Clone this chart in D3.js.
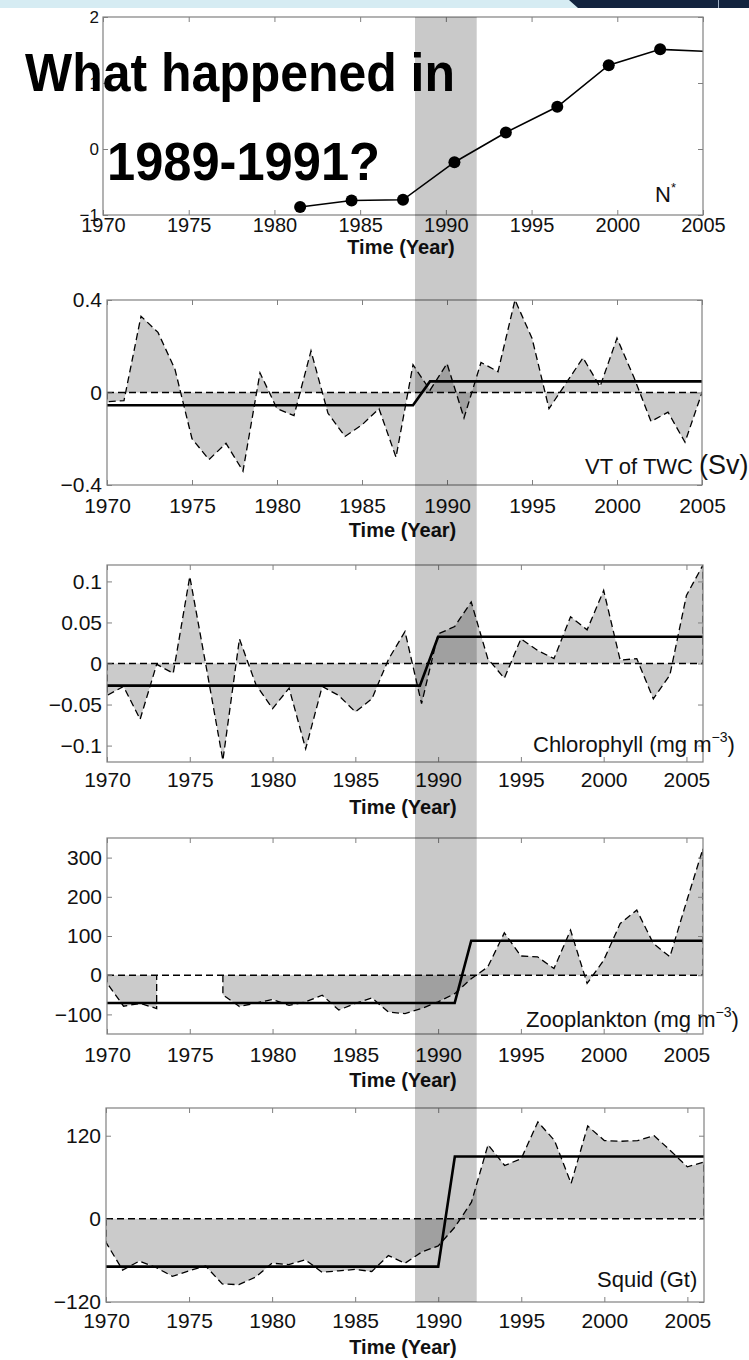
<!DOCTYPE html>
<html><head><meta charset="utf-8">
<script src="https://cdn.jsdelivr.net/npm/d3@7"></script>
<style>body{margin:0;background:#fff}svg{display:block}</style>
</head><body><svg id="c" width="749" height="1360"></svg>
<script>
// ---------------- DATA ----------------
const xTickValues = [1970, 1975, 1980, 1985, 1990, 1995, 2000, 2005];

// Panel 1: N*
const nYears  = [1981.5, 1984.5, 1987.5, 1990.5, 1993.5, 1996.5, 1999.5, 2002.5];
const nValues = [-0.88, -0.78, -0.77, -0.2, 0.25, 0.64, 1.27, 1.51];
const nTailYear = 2005, nTailValue = 1.48;
const nYTicks = [-1, 0, 1, 2];

// Panel 2: VT of TWC (Sv)
const vtYears = [1970,1971,1972,1973,1974,1975,1976,1977,1978,1979,1980,1981,1982,1983,1984,1985,1986,1987,1988,1989,1990,1991,1992,1993,1994,1995,1996,1997,1998,1999,2000,2001,2002,2003,2004,2005];
const vtValues = [-0.04,-0.035,0.33,0.26,0.1,-0.2,-0.29,-0.22,-0.34,0.085,-0.07,-0.1,0.18,-0.09,-0.19,-0.14,-0.07,-0.28,0.12,0.01,0.125,-0.11,0.13,0.09,0.4,0.235,-0.07,0.04,0.15,0.025,0.235,0.065,-0.125,-0.085,-0.215,0.0];
const vtStepYears = [1970, 1988, 1989, 2005];
const vtStepValues = [-0.055, -0.055, 0.048, 0.048];
const vtYTicks = [-0.4, 0, 0.4];

// Panel 3: Chlorophyll (mg m^-3)
const chlYears = [1970,1971,1972,1973,1974,1975,1976,1977,1978,1979,1980,1981,1982,1983,1984,1985,1986,1987,1988,1989,1990,1991,1992,1993,1994,1995,1996,1997,1998,1999,2000,2001,2002,2003,2004,2005,2006];
const chlValues = [-0.039,-0.028,-0.068,-0.001,-0.012,0.106,-0.005,-0.118,0.03,-0.026,-0.055,-0.03,-0.104,-0.028,-0.039,-0.059,-0.043,0.005,0.039,-0.049,0.036,0.045,0.075,0.006,-0.018,0.03,0.016,0.006,0.057,0.041,0.089,0.004,0.006,-0.043,-0.014,0.083,0.12];
const chlStepYears = [1970, 1988.9, 1990, 2006];
const chlStepValues = [-0.027, -0.027, 0.0325, 0.0325];
const chlYTicks = [-0.1, -0.05, 0, 0.05, 0.1];

// Panel 4: Zooplankton (mg m^-3)  (no data 1974-1976)
const zooYearsA = [1970,1971,1972,1973];
const zooValuesA = [-20,-79,-72,-85];
const zooYearsB = [1977,1978,1979,1980,1981,1982,1983,1984,1985,1986,1987,1988,1989,1990,1991,1992,1993,1994,1995,1996,1997,1998,1999,2000,2001,2002,2003,2004,2005,2006];
const zooValuesB = [-50,-80,-71,-62,-77,-68,-51,-89,-72,-58,-94,-98,-85,-68,-47,-9,21,108,49,47,17,115,-21,38,132,166,81,47,187,323];
const zooStepYears = [1970, 1991, 1992, 2006];
const zooStepValues = [-71, -71, 88, 88];
const zooYTicks = [-100, 0, 100, 200, 300];

// Panel 5: Squid (Gt)
const sqYears = [1970,1971,1972,1973,1974,1975,1976,1977,1978,1979,1980,1981,1982,1983,1984,1985,1986,1987,1988,1989,1990,1991,1992,1993,1994,1995,1996,1997,1998,1999,2000,2001,2002,2003,2004,2005,2006];
const sqValues = [-34,-74,-61,-70,-83,-75,-68,-94,-95,-84,-64,-66,-59,-77,-75,-73,-76,-53,-64,-48,-39,-12,24,107,77,87,140,113,51,134,113,112,113,120,98,75,82];
const sqStepYears = [1970, 1990, 1991, 2006];
const sqStepValues = [-69, -69, 90, 90];
const sqYTicks = [-120, 0, 120];

// Highlight period (years on the top panel's axis)
const bandYears = [1988.2, 1991.8];

// ---------------- DRAWING ----------------
const svg = d3.select("#c");
const defs = svg.append("defs");
const FONT = "'Liberation Sans', Arial, sans-serif";
const FRAME = "#808080";
const FILL = "#cbcbcb";

// top decoration
svg.append("rect").attr("x",0).attr("y",0).attr("width",749).attr("height",8).attr("fill","#d6ecf3");
svg.append("path").attr("d","M569,0L749,0L749,8L578,8Z").attr("fill","#13243f");
svg.append("line").attr("x1",718.5).attr("x2",718.5).attr("y1",0).attr("y2",8).attr("stroke","#9fb0c4").attr("stroke-width",1);

const fmt = v => (v < 0 ? "\u2212" : "") + String(Math.abs(v));

function makePanel(cfg, id) {
  const x = d3.scaleLinear().domain(cfg.xDomain).range([cfg.left, cfg.right]);
  const y = d3.scaleLinear().domain(cfg.yDomain).range([cfg.bottom, cfg.top]);
  const g = svg.append("g");
  defs.append("clipPath").attr("id","clip"+id).append("rect")
    .attr("x",cfg.left).attr("y",cfg.top).attr("width",cfg.right-cfg.left).attr("height",cfg.bottom-cfg.top);
  const body = g.append("g").attr("clip-path",`url(#clip${id})`);

  const styleAxis = (a) => {
    a.attr("font-family", FONT).attr("font-size", cfg.fontSize || 21);
    a.select(".domain").remove();
    a.selectAll(".tick line").attr("stroke", FRAME);
    a.selectAll(".tick text").attr("fill", "#111");
  };
  g.append("g").attr("transform",`translate(0,${cfg.bottom})`)
    .call(d3.axisBottom(x).tickValues(xTickValues).tickSize(-5).tickPadding(cfg.xPad).tickFormat(d3.format("d")))
    .call(styleAxis);
  g.append("g").attr("transform",`translate(0,${cfg.top})`)
    .call(d3.axisTop(x).tickValues(xTickValues).tickSize(-5).tickFormat(""))
    .call(styleAxis);
  const yl = g.append("g").attr("transform",`translate(${cfg.left},0)`)
    .call(d3.axisLeft(y).tickValues(cfg.yTicks).tickSize(-5).tickPadding(cfg.yPad).tickFormat(fmt))
    .call(styleAxis);
  if (cfg.yFontSize) yl.attr("font-size", cfg.yFontSize);
  g.append("g").attr("transform",`translate(${cfg.right},0)`)
    .call(d3.axisRight(y).tickValues(cfg.yTicks).tickSize(-5).tickFormat(""))
    .call(styleAxis);
  g.append("rect").attr("x",cfg.left).attr("y",cfg.top).attr("width",cfg.right-cfg.left)
    .attr("height",cfg.bottom-cfg.top).attr("fill","none").attr("stroke",FRAME).attr("stroke-width",1.2);

  g.append("text").attr("x",(cfg.left+cfg.right)/2 - 2).attr("y",cfg.timeY).attr("dy","0.35em")
    .attr("text-anchor","middle").attr("font-family",FONT).attr("font-size",20).attr("font-weight","bold")
    .attr("fill","#111").text("Time (Year)");
  return {x, y, g, body};
}

function anomalyPanel(p, segments, stepYears, stepValues) {
  const {x, y, body} = p;
  segments.forEach(([yrs, vals]) => {
    const pts = yrs.map((t,i)=>[t, vals[i]]);
    body.append("path").datum(pts)
      .attr("d", d3.area().x(d=>x(d[0])).y0(y(0)).y1(d=>y(d[1])))
      .attr("fill", FILL);
  });
  body.append("line").attr("x1",x.range()[0]).attr("x2",x.range()[1]).attr("y1",y(0)).attr("y2",y(0))
    .attr("stroke","#000").attr("stroke-width",1.5).attr("stroke-dasharray","7,4");
  segments.forEach(([yrs, vals]) => {
    const pts = [[yrs[0],0]].concat(yrs.map((t,i)=>[t, vals[i]])).concat([[yrs[yrs.length-1],0]]);
    body.append("path").datum(pts)
      .attr("d", d3.line().x(d=>x(d[0])).y(d=>y(d[1])))
      .attr("fill","none").attr("stroke","#000").attr("stroke-width",1.3).attr("stroke-dasharray","7,4");
  });
  body.append("path").datum(stepYears.map((t,i)=>[t, stepValues[i]]))
    .attr("d", d3.line().x(d=>x(d[0])).y(d=>y(d[1])))
    .attr("fill","none").attr("stroke","#000").attr("stroke-width",2.6);
}

function label(parts, x0, y0) {
  const t = svg.append("text").attr("x",x0).attr("y",y0).attr("font-family",FONT).attr("fill","#111");
  parts.forEach(pt => {
    const s = t.append("tspan").attr("font-size", pt.size).text(pt.text);
    if (pt.dy) s.attr("dy", pt.dy);
  });
}

// Panel 1
const p1 = makePanel({left:103,right:703,top:17,bottom:215,xDomain:[1970,2005],yDomain:[-1,2],yTicks:nYTicks,xPad:3,yPad:4,timeY:247,fontSize:20,yFontSize:17},1);
{
  const pts = nYears.map((t,i)=>[t,nValues[i]]).concat([[nTailYear,nTailValue]]);
  p1.body.append("path").datum(pts).attr("d", d3.line().x(d=>p1.x(d[0])).y(d=>p1.y(d[1])))
    .attr("fill","none").attr("stroke","#000").attr("stroke-width",1.6);
  p1.body.selectAll("circle").data(nYears).join("circle")
    .attr("cx",(d)=>p1.x(d)).attr("cy",(d,i)=>p1.y(nValues[i])).attr("r",6).attr("fill","#000");
}
label([{text:"N",size:22},{text:"*",size:13,dy:-10}], 655, 202);

// Panel 2
const p2 = makePanel({left:107,right:702,top:300,bottom:485,xDomain:[1970,2005],yDomain:[-0.4,0.4],yTicks:vtYTicks,xPad:13,yPad:5,timeY:530},2);
anomalyPanel(p2, [[vtYears, vtValues]], vtStepYears, vtStepValues);
label([{text:"VT of TWC ",size:22},{text:"(Sv)",size:27}], 585, 474);

// Panel 3
const p3 = makePanel({left:107,right:703,top:565,bottom:762,xDomain:[1970,2006],yDomain:[-0.12,0.12],yTicks:chlYTicks,xPad:10,yPad:5,timeY:807},3);
anomalyPanel(p3, [[chlYears, chlValues]], chlStepYears, chlStepValues);
label([{text:"Chlorophyll (mg m",size:22},{text:"\u22123",size:14,dy:-10},{text:")",size:22,dy:10}], 533, 752);

// Panel 4
const p4 = makePanel({left:107,right:703,top:838,bottom:1034,xDomain:[1970,2006],yDomain:[-150,350],yTicks:zooYTicks,xPad:13,yPad:5,timeY:1080},4);
anomalyPanel(p4, [[zooYearsA, zooValuesA],[zooYearsB, zooValuesB]], zooStepYears, zooStepValues);
label([{text:"Zooplankton (mg m",size:22},{text:"\u22123",size:14,dy:-10},{text:")",size:22,dy:10}], 526, 1027);

// Panel 5
const p5 = makePanel({left:106,right:704,top:1108,bottom:1302,xDomain:[1970,2006],yDomain:[-120,160],yTicks:sqYTicks,xPad:11,yPad:5,timeY:1347},5);
anomalyPanel(p5, [[sqYears, sqValues]], sqStepYears, sqStepValues);
label([{text:"Squid (Gt)",size:22}], 597, 1287);

// Highlight band across all panels
svg.append("rect").attr("x",p1.x(bandYears[0])).attr("y",17)
  .attr("width",p1.x(bandYears[1])-p1.x(bandYears[0])).attr("height",1302-17)
  .attr("fill","#000").attr("fill-opacity",0.21);

// Overlay title
svg.append("text").attr("x",25).attr("y",91).attr("font-family",FONT).attr("font-size",53).attr("font-weight","bold")
  .attr("textLength",430).attr("lengthAdjust","spacingAndGlyphs").attr("fill","#000").text("What happened in");
svg.append("text").attr("x",107).attr("y",180).attr("font-family",FONT).attr("font-size",53).attr("font-weight","bold")
  .attr("textLength",273).attr("lengthAdjust","spacingAndGlyphs").attr("fill","#000").text("1989-1991?");
</script></body></html>
